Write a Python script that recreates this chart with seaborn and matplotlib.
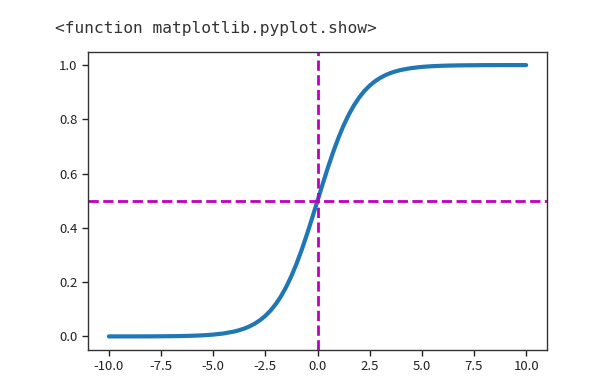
import pandas as pd
import matplotlib.pyplot as plt
import seaborn as sns

# Values
x_vals = [-10.0, -9.5, -9.0, -8.5, -8.0, -7.5, -7.0, -6.5, -6.0, -5.5,
          -5.0, -4.5, -4.0, -3.75, -3.5, -3.25, -3.0, -2.75, -2.5, -2.25,
          -2.0, -1.75, -1.5, -1.25, -1.0, -0.75, -0.5, -0.25,
          0.0, 0.25, 0.5, 0.75, 1.0, 1.25, 1.5, 1.75, 2.0, 2.25,
          2.5, 2.75, 3.0, 3.25, 3.5, 3.75, 4.0, 4.5,
          5.0, 5.5, 6.0, 6.5, 7.0, 7.5, 8.0, 8.5, 9.0, 9.5, 10.0]
y_vals = [0.0000, 0.0001, 0.0001, 0.0002, 0.0003, 0.0006, 0.0009, 0.0015, 0.0025, 0.0041,
          0.0067, 0.0110, 0.0180, 0.0230, 0.0293, 0.0373, 0.0474, 0.0601, 0.0759, 0.0953,
          0.1192, 0.1480, 0.1824, 0.2227, 0.2689, 0.3208, 0.3775, 0.4378,
          0.5000, 0.5622, 0.6225, 0.6792, 0.7311, 0.7773, 0.8176, 0.8520, 0.8808, 0.9047,
          0.9241, 0.9399, 0.9526, 0.9627, 0.9707, 0.9770, 0.9820, 0.9890,
          0.9933, 0.9959, 0.9975, 0.9985, 0.9991, 0.9994, 0.9997, 0.9998, 0.9999, 0.9999, 1.0000]
h_ref = 0.5
v_ref = 0.0
header = '<function matplotlib.pyplot.show>'

df = pd.DataFrame({'x': x_vals, 'y': y_vals})

sns.set_style('ticks')
plt.rcParams['font.family'] = ['Noto Sans CJK SC', 'DejaVu Sans']
plt.rcParams['axes.unicode_minus'] = False

fig = plt.figure(figsize=(5.92, 3.91), dpi=100)
ax = fig.add_axes([88 / 592, 1 - 350 / 391, 459 / 592, 298.5 / 391])

sns.lineplot(data=df, x='x', y='y', ax=ax, color='#1f77b4', linewidth=3)
ax.axhline(h_ref, color='m', linestyle='--', linewidth=2)
ax.axvline(v_ref, color='m', linestyle='--', linewidth=2)

ax.set_xlim(-11, 11)
ax.set_ylim(-0.05, 1.05)
ax.set_xticks([-10, -7.5, -5, -2.5, 0, 2.5, 5, 7.5, 10])
ax.set_yticks([0, 0.2, 0.4, 0.6, 0.8, 1.0])
ax.set_xlabel('')
ax.set_ylabel('')
ax.tick_params(labelsize=9.5, colors='#222222', length=4, width=1)
for s in ax.spines.values():
    s.set_visible(True)
    s.set_color('#333333')
    s.set_linewidth(1)

fig.text(55 / 592, 1 - 28 / 391, header, family='DejaVu Sans Mono',
         fontsize=11.7, color='#333333', va='center', ha='left')

fig.savefig('out.png', dpi=100)
